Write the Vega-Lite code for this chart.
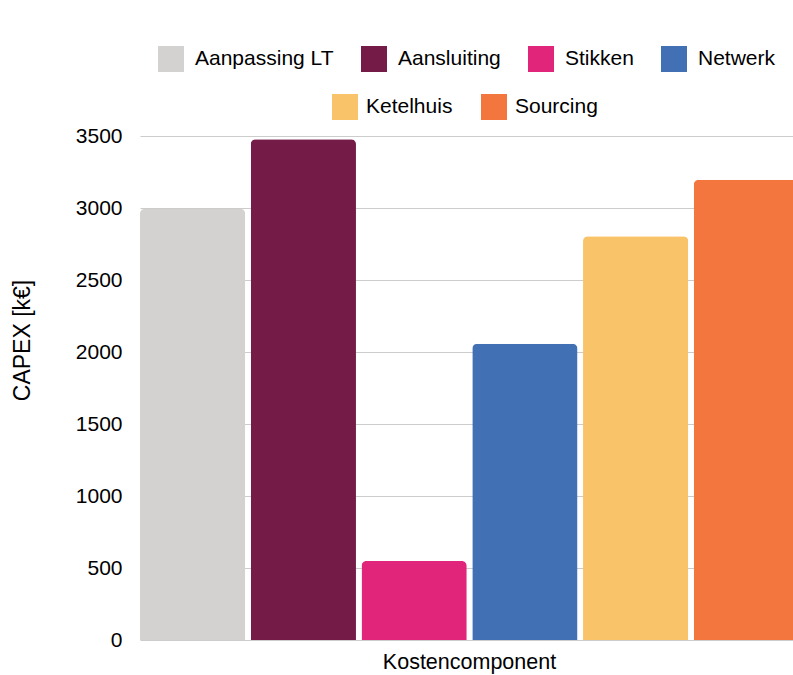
{
  "$schema": "https://vega.github.io/schema/vega-lite/v6.json",
  "autosize": "none",
  "width": 659,
  "height": 504,
  "padding": {"left": 140, "top": 136, "right": 10, "bottom": 35},
  "background": "white",
  "config": {
    "view": {"stroke": null},
    "font": "Liberation Sans",
    "text": {"font": "Liberation Sans"}
  },
  "data": {
    "values": [
      {"cat": "Kostencomponent", "series": "Aanpassing LT", "value": 2995},
      {"cat": "Kostencomponent", "series": "Aansluiting", "value": 3478},
      {"cat": "Kostencomponent", "series": "Stikken", "value": 548},
      {"cat": "Kostencomponent", "series": "Netwerk", "value": 2058},
      {"cat": "Kostencomponent", "series": "Ketelhuis", "value": 2803},
      {"cat": "Kostencomponent", "series": "Sourcing", "value": 3197}
    ]
  },
  "encoding": {
    "x": {
      "field": "cat",
      "type": "nominal",
      "scale": {"paddingInner": 0, "paddingOuter": 0},
      "axis": {
        "title": null,
        "labelAngle": 0,
        "labelFontSize": 21.5,
        "labelColor": "#000000",
        "labelFont": "Liberation Sans",
        "labelPadding": 11,
        "ticks": false,
        "domain": false
      }
    },
    "xOffset": {
      "field": "series",
      "type": "nominal",
      "scale": {
        "domain": ["Aanpassing LT", "Aansluiting", "Stikken", "Netwerk", "Ketelhuis", "Sourcing"],
        "paddingInner": 0.05,
        "paddingOuter": 0
      }
    },
    "y": {
      "field": "value",
      "type": "quantitative",
      "scale": {"domain": [0, 3500], "nice": false},
      "axis": {
        "title": "CAPEX [k€]",
        "titleFontSize": 23,
        "titleFontWeight": "normal",
        "titleColor": "#000000",
        "titleFont": "Liberation Sans",
        "titleAngle": -90,
        "titleAlign": "center",
        "titleBaseline": "alphabetic",
        "titleX": -111,
        "titleY": 204,
        "values": [0, 500, 1000, 1500, 2000, 2500, 3000, 3500],
        "format": "d",
        "labelFontSize": 21,
        "labelColor": "#000000",
        "labelFont": "Liberation Sans",
        "labelPadding": 18,
        "ticks": false,
        "domain": false,
        "grid": true,
        "gridColor": "#cccccc",
        "gridWidth": 1
      }
    }
  },
  "layer": [
    {
      "transform": [{"filter": {"field": "series", "oneOf": ["Aanpassing LT", "Aansluiting", "Stikken", "Netwerk"]}}],
      "mark": {"type": "bar", "cornerRadiusTopLeft": 5, "cornerRadiusTopRight": 5},
      "encoding": {
        "color": {
          "field": "series",
          "type": "nominal",
          "scale": {
            "domain": ["Aanpassing LT", "Aansluiting", "Stikken", "Netwerk"],
            "range": ["#d3d2d1", "#741b47", "#e1257a", "#4170b4"]
          },
          "legend": {
            "title": null,
            "orient": "none",
            "direction": "horizontal",
            "legendX": 18,
            "legendY": -90,
            "symbolType": "square",
            "symbolSize": 676,
            "symbolStrokeWidth": 0,
            "symbolOpacity": 1,
            "labelFontSize": 21,
            "labelFont": "Liberation Sans",
            "labelColor": "#000000",
            "labelOffset": 11,
            "columnPadding": 27,
            "padding": 0,
            "labelLimit": 300
          }
        }
      }
    },
    {
      "transform": [{"filter": {"field": "series", "oneOf": ["Ketelhuis", "Sourcing"]}}],
      "mark": {"type": "bar", "cornerRadiusTopLeft": 5, "cornerRadiusTopRight": 5},
      "encoding": {
        "color": {
          "field": "series",
          "type": "nominal",
          "scale": {
            "domain": ["Ketelhuis", "Sourcing"],
            "range": ["#f9c36a", "#f3763e"]
          },
          "legend": {
            "title": null,
            "orient": "none",
            "direction": "horizontal",
            "legendX": 192,
            "legendY": -42,
            "symbolType": "square",
            "symbolSize": 676,
            "symbolStrokeWidth": 0,
            "symbolOpacity": 1,
            "labelFontSize": 21,
            "labelFont": "Liberation Sans",
            "labelColor": "#000000",
            "labelOffset": 8,
            "columnPadding": 28,
            "padding": 0,
            "labelLimit": 300
          }
        }
      }
    }
  ],
  "resolve": {"scale": {"color": "independent"}, "legend": {"color": "independent"}}
}
